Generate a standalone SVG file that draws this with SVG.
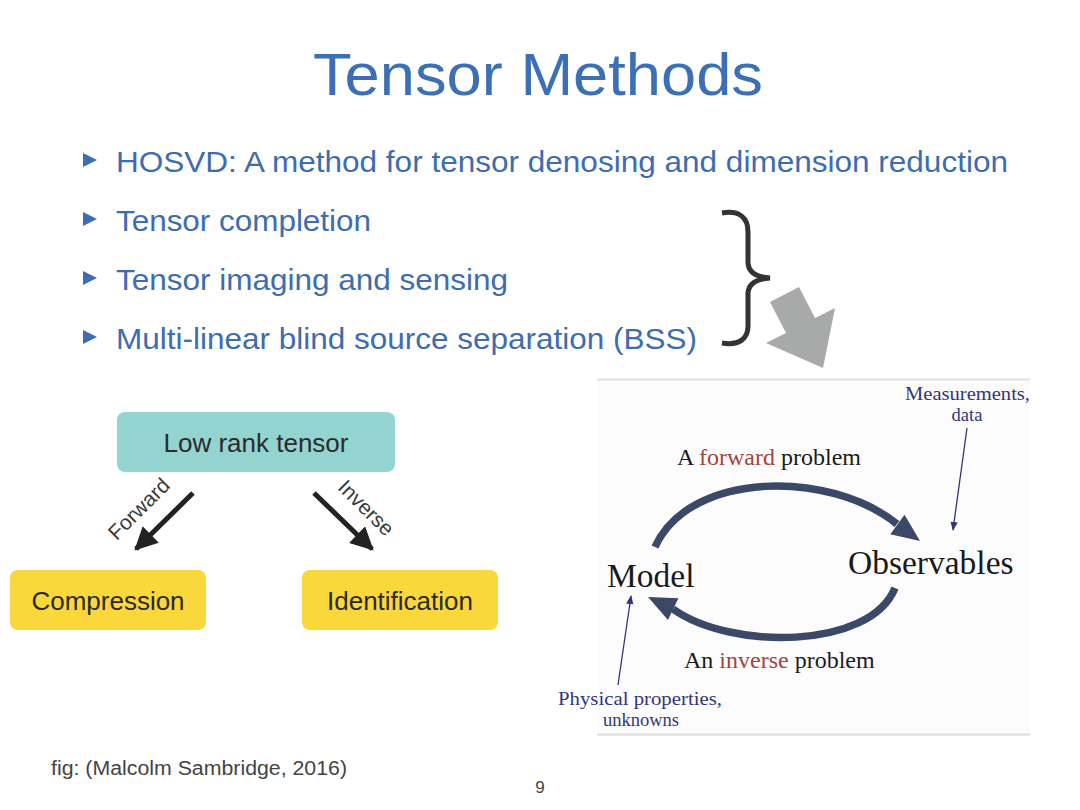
<svg xmlns="http://www.w3.org/2000/svg" width="1080" height="810" viewBox="0 0 1080 810">
<style>
.title{font-family:"Liberation Sans",Arial,sans-serif;font-size:60px;fill:#3b70b7}
.bullet{font-family:"Liberation Sans",Arial,sans-serif;font-size:29px;fill:#3d6db0}
.tri{fill:#3d6db0}
.box{font-family:"Liberation Sans",Arial,sans-serif;font-size:26px;fill:#2a2a2a}
.lab{font-family:"Liberation Sans",Arial,sans-serif;font-size:21px;fill:#3a3a3a}
.serif{font-family:"Liberation Serif","Times New Roman",serif;fill:#1a1a1a}
.red{fill:#a5443a}
.navy{font-family:"Liberation Serif","Times New Roman",serif;font-size:18.5px;fill:#34347a}
.foot{font-family:"Liberation Sans",Arial,sans-serif;fill:#444}
.big{stroke:#3b4868;stroke-width:7.5;fill:none}
.thin{stroke:#34347a;stroke-width:1.3;fill:none}
.blk{stroke:#222;stroke-width:5;fill:none}
</style>
<defs>
<marker id="blkhead" viewBox="0 0 10 10" refX="9" refY="5" markerWidth="4.6" markerHeight="4.6" orient="auto" markerUnits="strokeWidth">
<path d="M0,0 L10,5 L0,10 z" fill="#222"/>
</marker>
<marker id="thinhead" viewBox="0 0 10 10" refX="9" refY="5" markerWidth="7" markerHeight="7" orient="auto" markerUnits="strokeWidth">
<path d="M0,1 L10,5 L0,9 z" fill="#34347a"/>
</marker>
</defs>
<rect width="1080" height="810" fill="#ffffff"/>
<text class="title" x="313" y="95" textLength="450" lengthAdjust="spacingAndGlyphs">Tensor Methods</text>
<g id="bullets">
<polygon class="tri" points="83,153 97,160 83,167"/>
<text class="bullet" x="116" y="172" textLength="892" lengthAdjust="spacingAndGlyphs">HOSVD: A method for tensor denosing and dimension reduction</text>
<polygon class="tri" points="83,212 97,219 83,226"/>
<text class="bullet" x="116" y="231" textLength="255" lengthAdjust="spacingAndGlyphs">Tensor completion</text>
<polygon class="tri" points="83,271 97,278 83,285"/>
<text class="bullet" x="116" y="290" textLength="392" lengthAdjust="spacingAndGlyphs">Tensor imaging and sensing</text>
<polygon class="tri" points="83,330 97,337 83,344"/>
<text class="bullet" x="116" y="349" textLength="581" lengthAdjust="spacingAndGlyphs">Multi-linear blind source separation (BSS)</text>
</g>
<g id="brace">
<path d="M722,213 C740,210 748,218 748,232 L748,262 C748,272 755,277 770,278 C755,279 748,284 748,294 L748,326 C748,338 740,346 722,343" fill="none" stroke="#333" stroke-width="5"/>
</g>
<g id="gray-arrow">
<polygon points="770,302 799,287 815,318 835,308 823,368 766,343 786,333" fill="#a8aaa9"/>
</g>
<g id="panel">
<rect x="597" y="380" width="433" height="354" fill="#fcfcfc"/>
<line x1="597" y1="379.5" x2="1030" y2="379.5" stroke="#e2e2e2" stroke-width="2"/>
<line x1="597" y1="734.5" x2="1030" y2="734.5" stroke="#dcdcdc" stroke-width="2"/>
</g>
<g id="node-lowrank">
<rect x="117" y="412" width="278" height="60" rx="8" fill="#93d4d1"/>
<text class="box" x="256" y="452" text-anchor="middle">Low rank tensor</text>
</g>
<g id="node-compression">
<rect x="10" y="570" width="196" height="60" rx="8" fill="#fad73b"/>
<text class="box" x="108" y="610" text-anchor="middle">Compression</text>
</g>
<g id="node-identification">
<rect x="302" y="570" width="196" height="60" rx="8" fill="#fad73b"/>
<text class="box" x="400" y="610" text-anchor="middle">Identification</text>
</g>
<g id="node-model">
<text class="serif" x="607" y="587" font-size="33.5">Model</text>
</g>
<g id="node-observables">
<text class="serif" x="848" y="574" font-size="33.5">Observables</text>
</g>
<g id="node-measurements">
<text class="navy" x="905" y="400" textLength="125" lengthAdjust="spacingAndGlyphs">Measurements,</text>
<text class="navy" x="967" y="421" text-anchor="middle">data</text>
</g>
<g id="node-physical">
<text class="navy" x="558" y="705" textLength="164" lengthAdjust="spacingAndGlyphs">Physical properties,</text>
<text class="navy" x="641" y="726" text-anchor="middle">unknowns</text>
</g>
<g id="connectors">
<line class="blk" x1="193" y1="493" x2="136" y2="549" marker-end="url(#blkhead)"/>
<text class="lab" transform="translate(139,509) rotate(-45)" text-anchor="middle" y="7">Forward</text>
<line class="blk" x1="314" y1="493" x2="372" y2="549" marker-end="url(#blkhead)"/>
<text class="lab" transform="translate(366,508) rotate(45)" text-anchor="middle" y="7">Inverse</text>
<path class="big" d="M655,547 C690,470 830,470 897,524"/>
<polygon points="920,541 890.3,534.2 904.5,514.8" fill="#3b4868"/>
<path class="big" d="M895,588 C870,650 730,650 673,609"/>
<polygon points="648,597 678.4,598.3 668,619.9" fill="#3b4868"/>
<text class="serif" x="677" y="465" font-size="24">A <tspan class="red">forward</tspan> problem</text>
<text class="serif" x="684" y="668" font-size="24">An <tspan class="red">inverse</tspan> problem</text>
<line class="thin" x1="967" y1="428" x2="953" y2="530" marker-end="url(#thinhead)"/>
<line class="thin" x1="618" y1="685" x2="631" y2="596" marker-end="url(#thinhead)"/>
</g>
<text class="foot" x="51" y="775" font-size="20" textLength="296" lengthAdjust="spacingAndGlyphs">fig: (Malcolm Sambridge, 2016)</text>
<text class="foot" x="540" y="793" font-size="17" text-anchor="middle">9</text>
</svg>
